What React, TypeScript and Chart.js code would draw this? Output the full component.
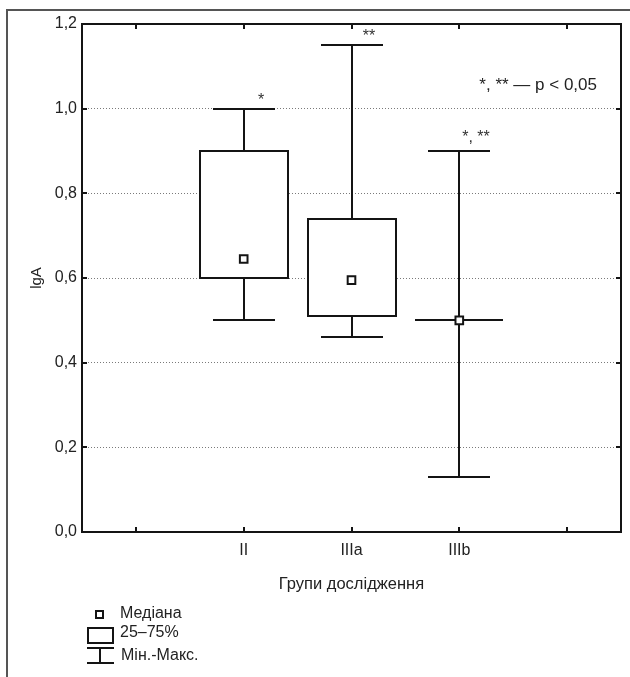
import React, { useEffect, useRef } from 'react';
import { Chart, registerables } from 'chart.js';

Chart.register(...registerables);

// ---- data ----
const categories = ['', 'II', 'IIIa', 'IIIb', ''];
const groups = ['II', 'IIIa', 'IIIb'];
const minValues = [0.5, 0.46, 0.13];
const q1Values = [0.6, 0.51, 0.5];
const medianValues = [0.645, 0.595, 0.5];
const q3Values = [0.9, 0.74, 0.5];
const maxValues = [1.0, 1.15, 0.9];
const significance = ['*', '**', '*, **'];
const yTicks = [0, 0.2, 0.4, 0.6, 0.8, 1.0, 1.2];
const noteText = '*, ** \u2014 p < 0,05';
const xTitle = 'Групи дослідження';
const yTitle = 'lgA';
const legendLabels = ['Медіана', '25\u201375%', 'Мін.-Макс.'];

const FONT = "'Liberation Sans', Arial, sans-serif";
const INK = '#141414';

const boxPlugin = {
  id: 'boxPlot',
  beforeDatasetsDraw(chart: any) {
    const { ctx } = chart;
    const x = chart.scales.x;
    const y = chart.scales.y;
    const catW = x.getPixelForValue(1) - x.getPixelForValue(0);
    const boxHalf = Math.round(catW * 0.404);
    const capHalf = Math.round(catW * 0.284);
    const sigLift = [8, 8, 13];
    ctx.save();
    ctx.strokeStyle = INK;
    ctx.lineWidth = 2;
    groups.forEach((g, i) => {
      const cx = Math.round(x.getPixelForValue(categories.indexOf(g)));
      const pMin = Math.round(y.getPixelForValue(minValues[i]));
      const pMax = Math.round(y.getPixelForValue(maxValues[i]));
      const pQ1 = Math.round(y.getPixelForValue(q1Values[i]));
      const pQ3 = Math.round(y.getPixelForValue(q3Values[i]));
      ctx.beginPath();
      ctx.moveTo(cx, pMax);
      ctx.lineTo(cx, pMin);
      ctx.moveTo(cx - capHalf, pMax);
      ctx.lineTo(cx + capHalf, pMax);
      ctx.moveTo(cx - capHalf, pMin);
      ctx.lineTo(cx + capHalf, pMin);
      ctx.stroke();
      ctx.fillStyle = '#fff';
      ctx.fillRect(cx - boxHalf, pQ3, boxHalf * 2, pQ1 - pQ3);
      ctx.beginPath();
      if (pQ1 === pQ3) {
        ctx.moveTo(cx - boxHalf, pQ1);
        ctx.lineTo(cx + boxHalf, pQ1);
      } else {
        ctx.rect(cx - boxHalf, pQ3, boxHalf * 2, pQ1 - pQ3);
      }
      ctx.stroke();
      // significance marks
      ctx.fillStyle = '#333';
      ctx.font = `16px ${FONT}`;
      ctx.textAlign = 'center';
      ctx.textBaseline = 'middle';
      ctx.fillText(significance[i], cx + 17, pMax - sigLift[i]);
    });
    ctx.restore();
  },
  afterDraw(chart: any) {
    const { ctx, chartArea } = chart;
    const x = chart.scales.x;
    const y = chart.scales.y;
    const left = Math.round(chartArea.left);
    const right = Math.round(chartArea.right);
    const top = Math.round(chartArea.top);
    const bottom = Math.round(chartArea.bottom);
    ctx.save();
    // plot frame
    ctx.strokeStyle = INK;
    ctx.lineWidth = 2;
    ctx.strokeRect(left, top, right - left, bottom - top);
    // inward ticks
    ctx.beginPath();
    categories.forEach((_, i) => {
      const px = Math.round(x.getPixelForValue(i));
      ctx.moveTo(px, bottom);
      ctx.lineTo(px, bottom - 5);
      ctx.moveTo(px, top);
      ctx.lineTo(px, top + 5);
    });
    yTicks.forEach((v) => {
      const py = Math.round(y.getPixelForValue(v));
      ctx.moveTo(left, py);
      ctx.lineTo(left + 5, py);
      ctx.moveTo(right, py);
      ctx.lineTo(right - 5, py);
    });
    ctx.stroke();

    // note
    ctx.fillStyle = '#222';
    ctx.font = `17px ${FONT}`;
    ctx.textAlign = 'right';
    ctx.textBaseline = 'middle';
    ctx.fillText(noteText, right - 24, top + 61);

    // legend
    ctx.strokeStyle = INK;
    ctx.lineWidth = 2;
    ctx.fillStyle = '#fff';
    ctx.fillRect(96, 611, 7, 7);
    ctx.strokeRect(96, 611, 7, 7);
    ctx.strokeRect(88, 628, 25, 15);
    ctx.beginPath();
    ctx.moveTo(87, 648); ctx.lineTo(114, 648);
    ctx.moveTo(100, 648); ctx.lineTo(100, 663);
    ctx.moveTo(87, 663); ctx.lineTo(114, 663);
    ctx.stroke();
    ctx.fillStyle = '#222';
    ctx.font = `16px ${FONT}`;
    ctx.textAlign = 'left';
    ctx.textBaseline = 'middle';
    ctx.fillText(legendLabels[0], 120, 614);
    ctx.fillText(legendLabels[1], 120, 633);
    ctx.fillText(legendLabels[2], 121, 656);

    // outer page frame
    ctx.strokeStyle = '#555';
    ctx.lineWidth = 2;
    ctx.beginPath();
    ctx.moveTo(7, 677);
    ctx.lineTo(7, 10);
    ctx.lineTo(630, 10);
    ctx.stroke();
    ctx.restore();
  },
};

export default function App() {
  const canvasRef = useRef<HTMLCanvasElement | null>(null);

  useEffect(() => {
    const canvas = canvasRef.current;
    if (!canvas) return;
    const medianData = categories.map((c) => {
      const gi = groups.indexOf(c);
      return gi >= 0 ? medianValues[gi] : null;
    });
    const chart = new Chart(canvas, {
      type: 'line',
      data: {
        labels: categories,
        datasets: [
          {
            label: 'Медіана',
            data: medianData,
            showLine: false,
            pointStyle: 'rect',
            pointRadius: 5.4,
            pointBorderWidth: 2,
            pointBorderColor: INK,
            pointBackgroundColor: '#fff',
          },
        ],
      },
      plugins: [boxPlugin],
      options: {
        animation: false,
        responsive: true,
        maintainAspectRatio: false,
        layout: { padding: { left: 0, top: 24, right: 9, bottom: 75 } },
        plugins: { legend: { display: false }, tooltip: { enabled: false } },
        scales: {
          x: {
            type: 'category',
            offset: true,
            grid: { display: false, drawTicks: false },
            border: { display: false },
            ticks: {
              autoSkip: false,
              maxRotation: 0,
              padding: 9,
              color: '#222',
              font: { family: FONT, size: 16 },
            },
            title: {
              display: true,
              text: xTitle,
              color: '#222',
              font: { family: FONT, size: 16.5 },
              padding: { top: 0, bottom: 8 },
            },
            afterFit: (s: any) => {
              s.height = 70;
            },
          },
          y: {
            min: 0,
            max: 1.2,
            afterBuildTicks: (s: any) => {
              s.ticks = yTicks.map((v) => ({ value: v }));
            },
            grid: {
              drawTicks: false,
              lineWidth: 1,
              color: (c: any) =>
                c.index === 0 || c.index === yTicks.length - 1 ? 'rgba(0,0,0,0)' : '#7a7a7a',
            },
            border: { display: false, dash: [1, 2] },
            ticks: {
              padding: 5,
              color: '#222',
              font: { family: FONT, size: 16 },
              callback: (v: any) => Number(v).toFixed(1).replace('.', ','),
            },
            title: {
              display: true,
              text: yTitle,
              color: '#222',
              font: { family: FONT, size: 15 },
              padding: { top: 28, bottom: 0 },
            },
            afterFit: (s: any) => {
              s.width = 82;
            },
          },
        },
      },
    });
    return () => chart.destroy();
  }, []);

  return (
    <div style={{ position: 'absolute', left: 0, top: 0, width: 630, height: 677, background: '#fff' }}>
      <canvas ref={canvasRef} />
    </div>
  );
}
